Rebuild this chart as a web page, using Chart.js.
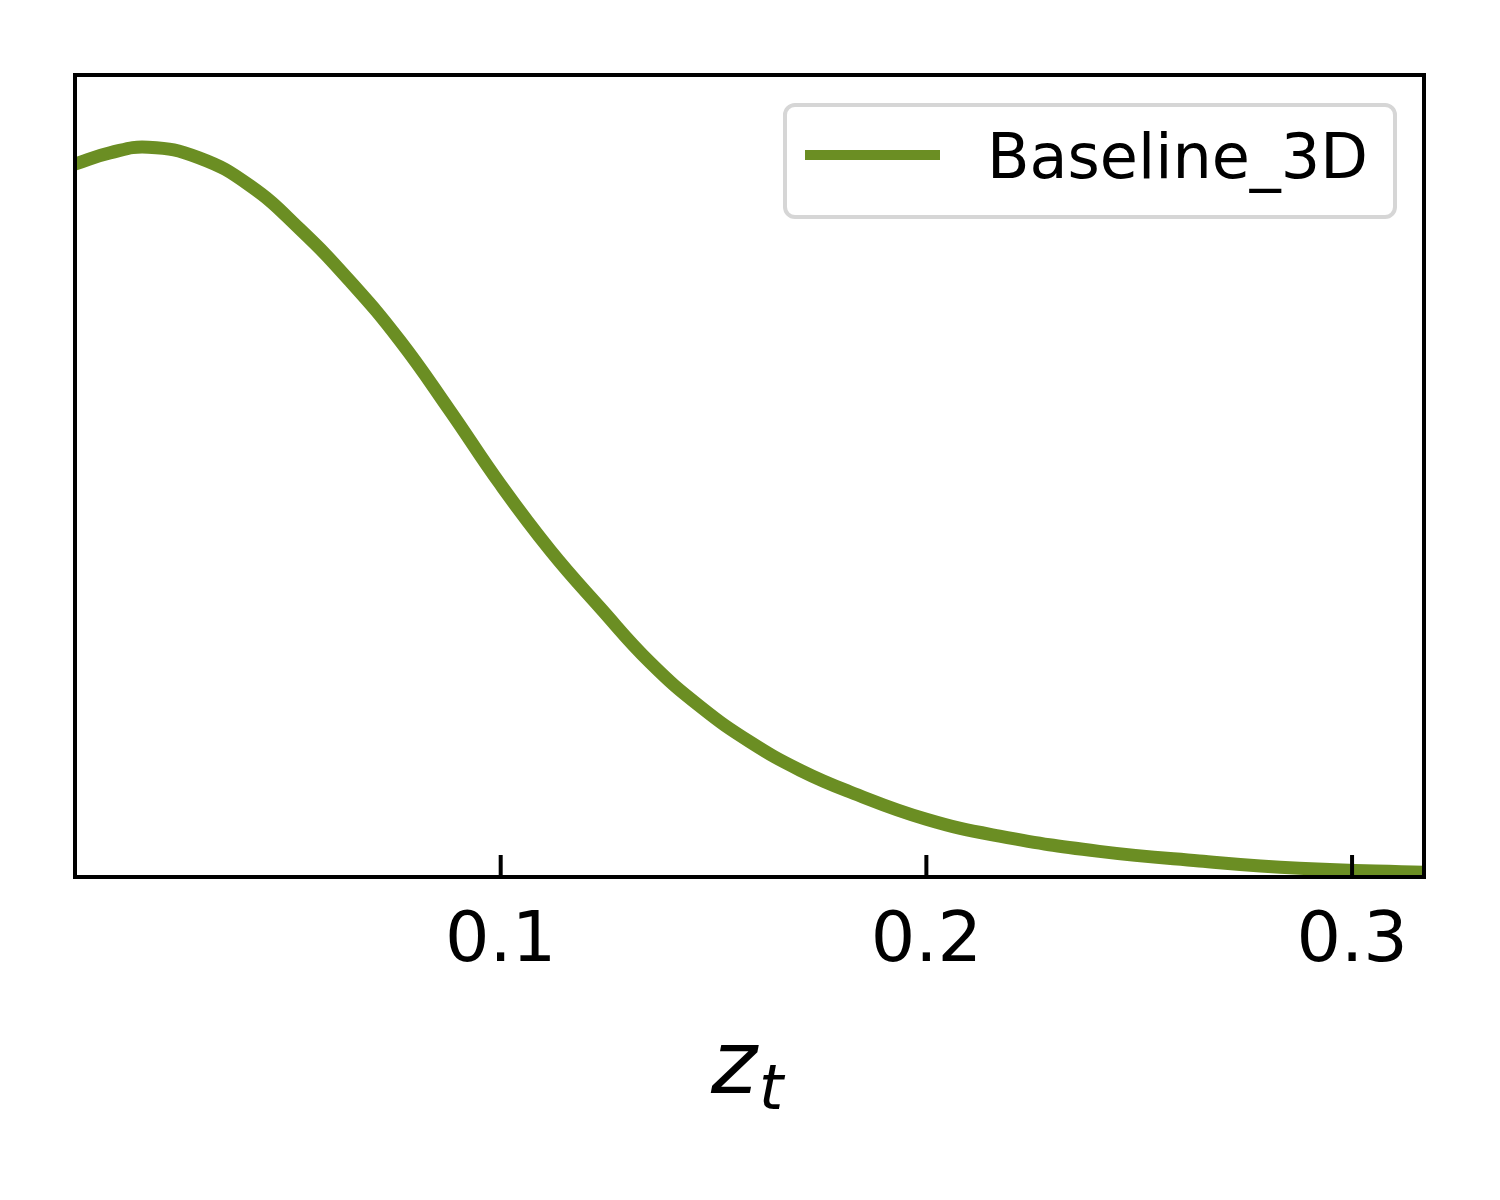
<!DOCTYPE html>
<html>
<head>
<meta charset="utf-8">
<script src="https://cdn.jsdelivr.net/npm/chart.js@4.4.1/dist/chart.umd.min.js"></script>
<style>
  html, body { margin: 0; padding: 0; background: #fff; }
  #wrap { width: 1500px; height: 1200px; }
</style>
</head>
<body>
<div id="wrap"><canvas id="chart" width="1500" height="1200"></canvas></div>
<script>
// values
const zValues = [0.000, 0.0082, 0.0172, 0.029, 0.0411, 0.0528, 0.0646, 0.0763, 0.0880, 0.100,
                 0.1117, 0.1235, 0.1352, 0.147, 0.1587, 0.1704, 0.1821, 0.200, 0.2172, 0.2406,
                 0.2641, 0.2876, 0.3169];
const baseline3D = [0.889, 0.903, 0.910, 0.897, 0.862, 0.808, 0.743, 0.669, 0.582, 0.489,
                    0.407, 0.335, 0.267, 0.212, 0.168, 0.133, 0.106, 0.072, 0.051, 0.032,
                    0.020, 0.011, 0.006];
const xTicks = [0.1, 0.2, 0.3];
const seriesLabel = 'Baseline_3D';
const lineColor = '#6b8e23';

const points = zValues.map((z, i) => ({ x: z, y: baseline3D[i] }));

// box around the axes + inward ticks on the bottom
const framePlugin = {
  id: 'frame',
  afterDatasetsDraw(chart) {
    const { ctx, chartArea: a, scales } = chart;
    ctx.save();
    ctx.strokeStyle = '#000';
    ctx.lineWidth = 4;
    ctx.strokeRect(a.left, a.top, a.right - a.left, a.bottom - a.top);
    xTicks.forEach(v => {
      const px = scales.x.getPixelForValue(v);
      ctx.beginPath();
      ctx.moveTo(px, a.bottom);
      ctx.lineTo(px, a.bottom - 22);
      ctx.stroke();
    });
    ctx.restore();
  }
};

// matplotlib-like legend box in the upper right
const legendBox = {
  id: 'legendBox',
  afterDraw(chart) {
    const { ctx } = chart;
    const ds = chart.data.datasets[0];
    const x0 = 785, y0 = 105, w = 610, h = 112, r = 10;
    ctx.save();
    ctx.beginPath();
    ctx.roundRect(x0, y0, w, h, r);
    ctx.fillStyle = 'rgba(255,255,255,0.8)';
    ctx.fill();
    ctx.lineWidth = 4;
    ctx.strokeStyle = '#d6d6d6';
    ctx.stroke();

    ctx.beginPath();
    ctx.moveTo(805, 155);
    ctx.lineTo(940, 155);
    ctx.lineWidth = 10;
    ctx.strokeStyle = ds.borderColor;
    ctx.stroke();

    ctx.fillStyle = '#000';
    ctx.font = '62px "DejaVu Sans"';
    ctx.textBaseline = 'alphabetic';
    ctx.textAlign = 'left';
    ctx.fillText(ds.label, 987, 178);
    ctx.restore();
  }
};

// x axis title: z with subscript t
const axisTitle = {
  id: 'axisTitle',
  afterDraw(chart) {
    const { ctx } = chart;
    ctx.save();
    ctx.fillStyle = '#000';
    ctx.textAlign = 'left';
    ctx.textBaseline = 'alphabetic';
    ctx.font = 'italic 88px "DejaVu Sans"';
    ctx.fillText('z', 711, 1093);
    ctx.font = 'italic 62px "DejaVu Sans"';
    ctx.fillText('t', 759, 1109);
    ctx.restore();
  }
};

new Chart(document.getElementById('chart'), {
  type: 'line',
  data: {
    datasets: [{
      label: seriesLabel,
      data: points,
      borderColor: lineColor,
      borderWidth: 13,
      pointRadius: 0,
      fill: false,
      tension: 0.45,
      clip: 0
    }]
  },
  options: {
    responsive: false,
    animation: false,
    events: [],
    layout: { padding: { left: 75, right: 76, top: 75, bottom: 0 } },
    plugins: {
      legend: { display: false },
      tooltip: { enabled: false }
    },
    scales: {
      x: {
        type: 'linear',
        min: 0,
        max: 0.3169,
        afterBuildTicks: (scale) => { scale.ticks = xTicks.map(v => ({ value: v })); },
        afterFit: (scale) => { scale.height = 323; },
        grid: { display: false, drawTicks: false },
        border: { display: false },
        ticks: {
          padding: 24,
          maxRotation: 0,
          autoSkip: false,
          color: '#000',
          font: { family: 'DejaVu Sans', size: 70 },
          callback: (v) => v.toFixed(1)
        }
      },
      y: {
        display: false,
        min: 0,
        max: 1
      }
    }
  },
  plugins: [framePlugin, legendBox, axisTitle]
});
</script>
</body>
</html>
